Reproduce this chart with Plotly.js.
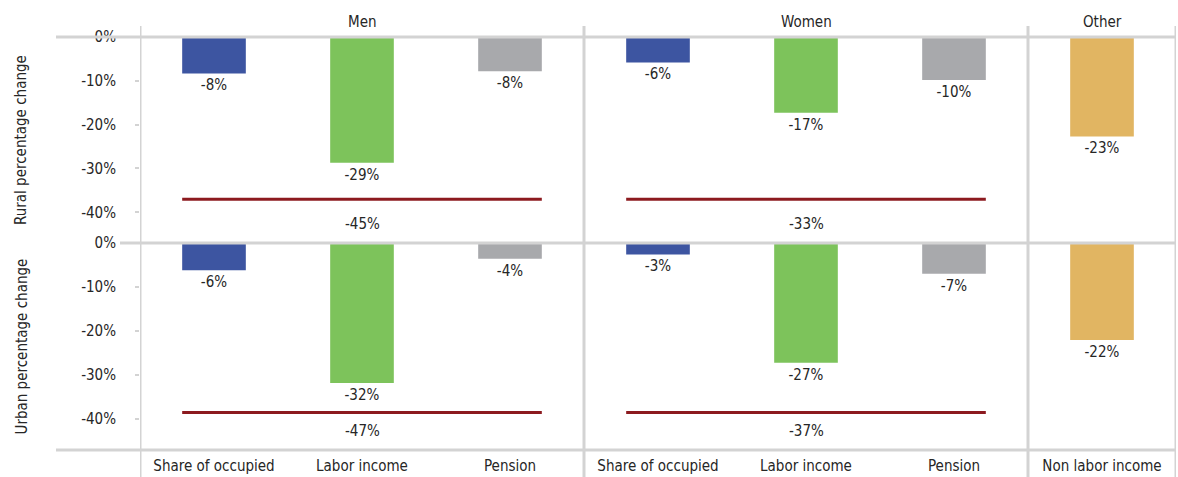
<!DOCTYPE html>
<html>
<head>
<meta charset="utf-8">
<script src="https://cdn.plot.ly/plotly-3.0.1.min.js"></script>
<style>
  html, body { margin: 0; padding: 0; background: #ffffff; }
  #chart { width: 1178px; height: 477px; }
</style>
</head>
<body>
<div id="chart"></div>
<script>
// ---- Data ----
const groups = ["Men", "Women", "Other"];
const categories = ["Share of occupied", "Labor income", "Pension",
                    "Share of occupied", "Labor income", "Pension",
                    "Non labor income"];
const ruralChange = [-8.3, -28.7, -7.8, -5.8, -17.3, -9.8, -22.7];
const urbanChange = [-6.2, -31.8, -3.6, -2.6, -27.2, -7.0, -22.0];
const ruralTotalIncome = [-45, -33];   // Men, Women
const urbanTotalIncome = [-47, -37];   // Men, Women
const yTicks = [0, -10, -20, -30, -40];
const rowTitles = ["Rural percentage change", "Urban percentage change"];

// ---- Styles ----
const FONT = "DejaVu Sans Condensed, Liberation Sans Narrow, sans-serif";
const TXT = "#262626";
const GRID = "#d3d3d3";
const catColors = ["#3d55a1", "#7dc35b", "#a8a9ac", "#3d55a1", "#7dc35b", "#a8a9ac", "#e1b562"];
const RED = "#8c1a1f";
const FS = 15;
const xPos = categories.map((c, i) => i);
const BARW = 0.43;
const fmt = v => Math.round(v) + "%";
const lineLevel = { rural: -37, urban: -38.5 };
const lineLabelLevel = -42.7;

const traces = [
  { type: "bar", x: xPos, y: ruralChange, xaxis: "x", yaxis: "y2", width: BARW,
    marker: { color: catColors }, text: ruralChange.map(fmt), textposition: "outside",
    textfont: { family: FONT, size: FS, color: TXT }, cliponaxis: false, hoverinfo: "skip" },
  { type: "bar", x: xPos, y: urbanChange, xaxis: "x", yaxis: "y", width: BARW,
    marker: { color: catColors }, text: urbanChange.map(fmt), textposition: "outside",
    textfont: { family: FONT, size: FS, color: TXT }, cliponaxis: false, hoverinfo: "skip" }
];

const plotH = 477 - 37 - 27;
const plotW = 1178 - 140 - 2;
const midY = (450 - 243) / plotH;
const py = px => (450 - px) / plotH;          // pixel-y -> paper
const pxX = px => (px - 140) / plotW;         // pixel-x -> paper

const shapes = [];
// horizontal frame lines
[[py(37), pxX(56)], [py(243), pxX(120)], [py(450), pxX(56)]].forEach(([yy, x0]) => {
  shapes.push({ type: "line", xref: "paper", yref: "paper", x0: x0, x1: 1, y0: yy, y1: yy,
                line: { color: GRID, width: 3 }, layer: "above" });
});
// vertical separators at group boundaries
[-0.5, 2.5, 5.5, 6.5].forEach(xb => {
  shapes.push({ type: "line", xref: "x", yref: "paper", x0: xb, x1: xb, y0: py(477), y1: py(26),
                line: { color: GRID, width: 3 }, layer: "above" });
});
// total income lines (Men: cats 0-2, Women: cats 3-5)
const annotations = [];
[[0, 2], [3, 5]].forEach(([a, b], gi) => {
  [["y2", lineLevel.rural, ruralTotalIncome[gi]], ["y", lineLevel.urban, urbanTotalIncome[gi]]].forEach(([yr, lvl, val]) => {
    shapes.push({ type: "line", xref: "x", yref: yr, x0: a - BARW / 2, x1: b + BARW / 2, y0: lvl, y1: lvl,
                  line: { color: RED, width: 3 } });
    annotations.push({ xref: "x", yref: yr, x: (a + b) / 2, y: lineLabelLevel, text: val + "%",
                       showarrow: false, font: { family: FONT, size: FS, color: TXT } });
  });
});
// group headers
[[1, groups[0]], [4, groups[1]], [6, groups[2]]].forEach(([xc, g]) => {
  annotations.push({ xref: "x", yref: "paper", x: xc, y: py(22), yanchor: "middle", text: g,
                     showarrow: false, font: { family: FONT, size: FS, color: TXT } });
});
// row titles
[["y2 domain", rowTitles[0]], ["y domain", rowTitles[1]]].forEach(([yr, t]) => {
  annotations.push({ xref: "paper", yref: yr, x: pxX(21), y: 0.5, xanchor: "center", yanchor: "middle",
                     textangle: -90, text: t, showarrow: false, font: { family: FONT, size: FS, color: TXT } });
});

const yAxisBase = {
  range: [-47, 0], tickvals: yTicks, ticktext: yTicks.map(v => v + "%"),
  showgrid: false, zeroline: false, showline: false,
  ticks: "outside", ticklen: 4, tickwidth: 2, tickcolor: GRID, ticklabelstandoff: 16,
  tickfont: { family: FONT, size: FS, color: TXT }, fixedrange: true
};

const layout = {
  width: 1178, height: 477,
  margin: { l: 140, r: 2, t: 37, b: 27, pad: 0 },
  paper_bgcolor: "#ffffff", plot_bgcolor: "#ffffff",
  showlegend: false,
  xaxis: { range: [-0.5, 6.5], tickvals: xPos, ticktext: categories, anchor: "y",
           showgrid: false, zeroline: false, showline: false, ticks: "",
           ticklabelstandoff: 5,
           tickfont: { family: FONT, size: FS, color: TXT }, fixedrange: true },
  yaxis: Object.assign({}, yAxisBase, { domain: [0, midY], anchor: "x" }),
  yaxis2: Object.assign({}, yAxisBase, { domain: [midY, 1], anchor: "x" }),
  shapes: shapes,
  annotations: annotations
};

Plotly.newPlot("chart", traces, layout, { displayModeBar: false, staticPlot: true });
</script>
</body>
</html>
